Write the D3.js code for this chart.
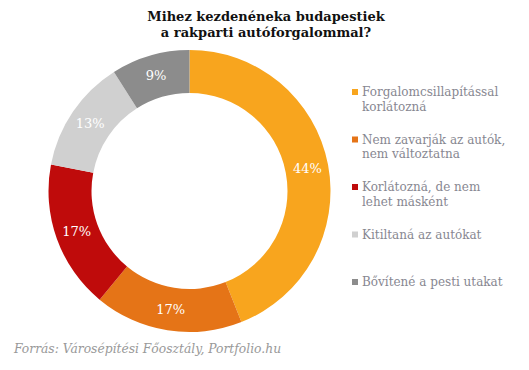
<!DOCTYPE html>
<html>
<head>
<meta charset="utf-8">
<script src="https://cdn.jsdelivr.net/npm/d3@7/dist/d3.min.js"></script>
<style>
  body { margin: 0; background: #fff; }
  svg { display: block; }
</style>
</head>
<body>
<script>
const categories = [
  'Forgalomcsillapítással korlátozná',
  'Nem zavarják az autók, nem változtatna',
  'Korlátozná, de nem lehet másként',
  'Kitiltaná az autókat',
  'Bővítené a pesti utakat'
];
// legend text split into lines
const legendLines = [
  ['Forgalomcsillapítással', 'korlátozná'],
  ['Nem zavarják az autók,', 'nem változtatna'],
  ['Korlátozná, de nem', 'lehet másként'],
  ['Kitiltaná az autókat'],
  ['Bővítené a pesti utakat']
];
const values = [44, 17, 17, 13, 9];
const colors = ['#f8a51e', '#e57417', '#bf0b0b', '#d0d0d0', '#8c8c8c'];
const titleLines = ['Mihez kezdenéneka budapestiek', 'a rakparti autóforgalommal?'];
const source = 'Forrás: Városépítési Főosztály, Portfolio.hu';

const W = 529, H = 370;
const font = "'DejaVu Serif', Georgia, serif";

const svg = d3.select('body').append('svg')
  .attr('width', W)
  .attr('height', H);

// title
svg.append('text')
  .attr('x', 266)
  .attr('y', 21)
  .attr('text-anchor', 'middle')
  .style('font-family', font)
  .style('font-weight', 'bold')
  .style('font-size', '13px')
  .attr('fill', '#111')
  .selectAll('tspan')
  .data(titleLines)
  .enter()
  .append('tspan')
  .attr('x', 266)
  .attr('dy', (d, i) => i ? 16 : 0)
  .text(d => d);

const cx = 189.5, cy = 191;
const outerR = 141, innerR = 98;

const pie = d3.pie().sort(null).value(d => d);
const arc = d3.arc().innerRadius(innerR).outerRadius(outerR);
const labelArc = d3.arc().innerRadius(120).outerRadius(120);

const g = svg.append('g').attr('transform', `translate(${cx},${cy})`);

const slices = g.selectAll('.slice')
  .data(pie(values))
  .enter()
  .append('g')
  .attr('class', 'slice');

slices.append('path')
  .attr('d', arc)
  .attr('fill', (d, i) => colors[i]);

slices.append('text')
  .attr('transform', d => `translate(${labelArc.centroid(d)})`)
  .attr('text-anchor', 'middle')
  .attr('dy', '0.35em')
  .style('font-family', font)
  .style('font-size', '13px')
  .attr('fill', '#fff')
  .text(d => d.data + '%');

// legend
const legend = svg.append('g').attr('transform', 'translate(352,92)');
const items = legend.selectAll('.item')
  .data(categories)
  .enter()
  .append('g')
  .attr('class', 'item')
  .attr('transform', (d, i) => `translate(0,${i * 47.5})`);

items.append('rect')
  .attr('x', 0)
  .attr('y', -3)
  .attr('width', 6)
  .attr('height', 6)
  .attr('fill', (d, i) => colors[i]);

items.append('text')
  .attr('y', 4)
  .style('font-family', font)
  .style('font-size', '12px')
  .attr('fill', '#878791')
  .selectAll('tspan')
  .data((d, i) => legendLines[i])
  .enter()
  .append('tspan')
  .attr('x', 10)
  .attr('dy', (d, i) => i ? 14.5 : 0)
  .text(d => d);

// source
svg.append('text')
  .attr('x', 14)
  .attr('y', 353)
  .style('font-family', font)
  .style('font-style', 'italic')
  .style('font-size', '12.3px')
  .attr('fill', '#999')
  .text(source);
</script>
</body>
</html>
